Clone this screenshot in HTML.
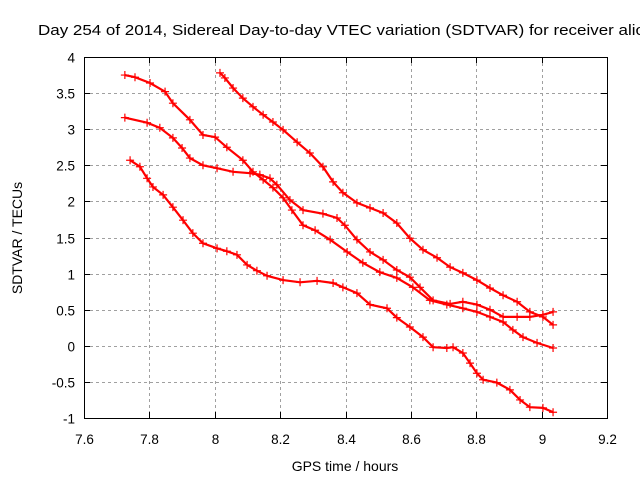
<!DOCTYPE html>
<html><head><meta charset="utf-8"><style>
body{margin:0;background:#fff;}
svg{display:block;font-family:"Liberation Sans",sans-serif;}
</style></head><body>
<svg id="chart" width="640" height="480" viewBox="0 0 640 480">
<rect width="640" height="480" fill="#fff"/>
<text x="38" y="35" font-size="15" textLength="606" lengthAdjust="spacingAndGlyphs" fill="#000">Day 254 of 2014, Sidereal Day-to-day VTEC variation (SDTVAR) for receiver alic</text>
<g id="grid"></g>
<g id="axes"></g>
<g id="series"></g>
<text x="345" y="471" font-size="14" text-anchor="middle">GPS time / hours</text>
<text transform="translate(22,238) rotate(-90)" font-size="14" text-anchor="middle">SDTVAR / TECUs</text>
</svg>
<script>
const xTicks=[7.6,7.8,8,8.2,8.4,8.6,8.8,9,9.2];
const xTickLabels=["7.6","7.8","8","8.2","8.4","8.6","8.8","9","9.2"];
const yTicks=[-1,-0.5,0,0.5,1,1.5,2,2.5,3,3.5,4];
const yTickLabels=["-1","-0.5","0","0.5","1","1.5","2","2.5","3","3.5","4"];
const seriesAx=[7.725,7.756,7.802,7.848,7.872,7.924,7.964,8.001,8.037,8.086,8.117,8.148,8.178,8.209,8.236,8.27,8.307,8.353,8.405,8.453,8.505,8.557,8.606,8.658,8.71,8.759,8.802,8.842,8.882,8.912,8.943,8.986,9.035];
const seriesAy=[3.75,3.72,3.64,3.52,3.36,3.13,2.92,2.89,2.75,2.57,2.41,2.30,2.19,2.05,1.88,1.67,1.60,1.47,1.30,1.15,1.02,0.94,0.81,0.63,0.57,0.52,0.47,0.40,0.33,0.22,0.12,0.04,-0.03];
const seriesBx=[8.016,8.031,8.056,8.086,8.117,8.148,8.178,8.209,8.252,8.291,8.331,8.362,8.392,8.435,8.475,8.515,8.557,8.597,8.637,8.68,8.72,8.759,8.802,8.842,8.882,8.925,8.964,9.004,9.035];
const seriesBy=[3.78,3.71,3.57,3.43,3.31,3.20,3.10,2.99,2.82,2.67,2.48,2.27,2.12,1.98,1.91,1.84,1.70,1.49,1.33,1.22,1.09,1.01,0.91,0.80,0.70,0.61,0.47,0.40,0.29];
const seriesCx=[7.725,7.793,7.832,7.872,7.90,7.924,7.964,8.007,8.056,8.108,8.138,8.169,8.19,8.23,8.27,8.331,8.374,8.398,8.435,8.475,8.515,8.557,8.597,8.628,8.668,8.72,8.759,8.802,8.842,8.882,8.925,8.964,9.004,9.035];
const seriesCy=[3.16,3.09,3.02,2.88,2.74,2.60,2.50,2.46,2.41,2.39,2.37,2.32,2.23,2.02,1.88,1.83,1.77,1.67,1.47,1.30,1.19,1.05,0.95,0.81,0.63,0.58,0.61,0.57,0.50,0.40,0.40,0.40,0.43,0.47];
const seriesDx=[7.741,7.771,7.793,7.811,7.842,7.872,7.903,7.933,7.964,8.007,8.037,8.068,8.099,8.129,8.16,8.209,8.261,8.313,8.362,8.392,8.435,8.475,8.527,8.557,8.597,8.637,8.668,8.71,8.729,8.759,8.781,8.802,8.821,8.863,8.903,8.934,8.964,9.004,9.035];
const seriesDy=[2.57,2.48,2.32,2.20,2.09,1.92,1.74,1.56,1.42,1.35,1.31,1.26,1.12,1.04,0.97,0.91,0.88,0.90,0.87,0.81,0.73,0.57,0.52,0.39,0.26,0.12,-0.02,-0.03,-0.02,-0.10,-0.24,-0.38,-0.47,-0.51,-0.61,-0.75,-0.85,-0.86,-0.92];

const L=84,R=607,T=57,B=418,X0=7.6,X1=9.2,Y0=-1,Y1=4;
function sx(v){return L+(v-X0)/(X1-X0)*(R-L);}
function sy(v){return B-(v-Y0)/(Y1-Y0)*(B-T);}
const NS="http://www.w3.org/2000/svg";
function mk(tag,attrs,parent){const e=document.createElementNS(NS,tag);for(const k in attrs)e.setAttribute(k,attrs[k]);parent.appendChild(e);return e;}
const grid=document.getElementById('grid'),axes=document.getElementById('axes'),ser=document.getElementById('series');

xTicks.forEach((t,i)=>{
  const x=Math.round(sx(t))+0.5;
  if(i>0&&i<xTicks.length-1){
    const g=mk('line',{x1:x,x2:x,y1:T,y2:B,stroke:'#a0a0a0','stroke-dasharray':'3,3','stroke-width':1},grid);
    
    
  }
  const tk=mk('path',{d:`M${x},${B}v-6M${x},${T}v6`,stroke:'#000','stroke-width':1},axes);
  
  
  const lb=mk('text',{x:x,y:B+26,'font-size':13.5,'text-anchor':'middle'},axes);
  lb.textContent=xTickLabels[i];
  
  
});
yTicks.forEach((t,i)=>{
  const y=Math.round(sy(t))+0.5;
  if(i>0&&i<yTicks.length-1){
    const g=mk('line',{x1:L,x2:R,y1:y,y2:y,stroke:'#a0a0a0','stroke-dasharray':'3,3','stroke-width':1},grid);
    
    
  }
  const tk=mk('path',{d:`M${L},${y}h6M${R},${y}h-6`,stroke:'#000','stroke-width':1},axes);
  
  
  const lb=mk('text',{x:L-9,y:y+5,'font-size':13.5,'text-anchor':'end'},axes);
  lb.textContent=yTickLabels[i];
  
  
});
const frame=mk('rect',{x:L+0.5,y:T+0.5,width:R-L,height:B-T,fill:'none',stroke:'#000','stroke-width':1},axes);



function drawSeries(xs,ys,name){
  const g=mk('g',{},ser);
  
  
  const pts=xs.map((v,i)=>sx(v).toFixed(1)+','+sy(ys[i]).toFixed(1)).join(' ');
  const pl=mk('polyline',{points:pts,fill:'none',stroke:'#f00','stroke-width':2.2},g);
  
  
  xs.forEach((v,i)=>{
    const x=sx(v),y=sy(ys[i]);
    const m=mk('path',{d:`M${x-4},${y}h8M${x},${y-4}v8`,stroke:'#f00','stroke-width':1.2},g);
    
    
  });
}
drawSeries(seriesAx,seriesAy,'series-a');
drawSeries(seriesBx,seriesBy,'series-b');
drawSeries(seriesCx,seriesCy,'series-c');
drawSeries(seriesDx,seriesDy,'series-d');
</script>
</body></html>
